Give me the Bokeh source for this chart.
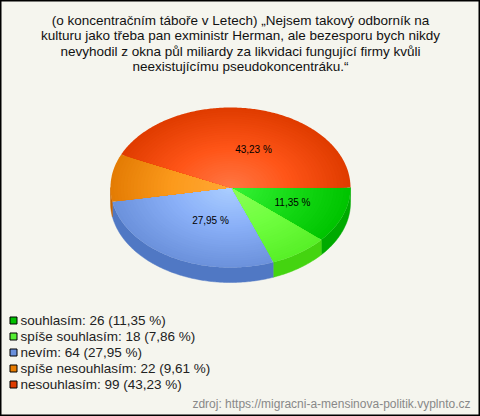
import numpy as np
from bokeh.plotting import figure
from bokeh.models import Range1d
from bokeh.core.properties import value
from bokeh.embed import file_html
from bokeh.resources import INLINE

# --- data ---
categories = ["souhlasím", "spíše souhlasím", "nevím", "spíše nesouhlasím", "nesouhlasím"]
counts = [26, 18, 64, 22, 99]
percent_labels = ["11,35", "7,86", "27,95", "9,61", "43,23"]
title_lines = [
    "(o koncentračním táboře v Letech) „Nejsem takový odborník na",
    "kulturu jako třeba pan exministr Herman, ale bezesporu bych nikdy",
    "nevyhodil z okna půl miliardy za likvidaci fungující firmy kvůli",
    "neexistujícímu pseudokoncentráku.“",
]
source_text = "zdroj: https://migracni-a-mensinova-politik.vyplnto.cz"

# --- style ---
BG = "#f5f5ee"
center_colors = ["#38f438", "#8cff58", "#accfff", "#ffa835", "#ff7845"]
mid_colors = ["#18dc18", "#70ff40", "#8ab0f8", "#fc9a1c", "#ff5518"]
edge_colors = ["#00c400", "#58f028", "#6c92dc", "#e47c04", "#e03c00"]
side_colors = ["#00aa00", "#44d410", "#5078c4", "#c86400", "#b83000"]
legend_colors = ["#00c000", "#55ee33", "#6a90dc", "#e87c00", "#e03c00"]
W, H = 480, 416
CX, CY, RX, RY, DEPTH = 230, 187, 120, 80, 15
RINGS = 36


def hex_rgb(c):
    return np.array([int(c[i:i + 2], 16) for i in (1, 3, 5)], dtype=float)


def shade(i, f):
    c0, c1, c2 = hex_rgb(center_colors[i]), hex_rgb(mid_colors[i]), hex_rgb(edge_colors[i])
    c = c0 + (c1 - c0) * f / 0.5 if f < 0.5 else c1 + (c2 - c1) * (f - 0.5) / 0.5
    return "#%02x%02x%02x" % tuple(int(round(v)) for v in c)


def arc(a0, a1, r=1.0, dy=0.0):
    n = max(2, int(abs(a1 - a0) * 80))
    t = np.linspace(a0, a1, n)
    return CX + RX * r * np.cos(t), CY + dy + RY * r * np.sin(t)


fractions = np.array(counts, dtype=float) / sum(counts)
edges = np.concatenate([[0], np.cumsum(fractions)]) * 2 * np.pi

p = figure(width=W, height=H, output_backend="svg", toolbar_location=None,
           x_range=Range1d(0, W), y_range=Range1d(H, 0),
           min_border=0, background_fill_color=BG, border_fill_color=BG)
p.xaxis.visible = False
p.yaxis.visible = False
p.grid.visible = False
p.outline_line_color = "#000000"
p.outline_line_width = 2

# side wall (front half only)
xs, ys, cs = [], [], []
for i in range(len(counts)):
    a0, a1 = edges[i], min(edges[i + 1], np.pi)
    if a1 <= a0:
        continue
    x_top, y_top = arc(a0, a1)
    x_bot, y_bot = arc(a1, a0, dy=DEPTH)
    xs.append(np.concatenate([x_top, x_bot]))
    ys.append(np.concatenate([y_top, y_bot]))
    cs.append(side_colors[i])
p.patches(xs, ys, fill_color=cs, line_color=cs, line_width=0.5)

# top face: radial shading as concentric sectors, outer to inner
xs, ys, cs = [], [], []
for i in range(len(counts)):
    for k in range(RINGS, 0, -1):
        f = k / RINGS
        x_a, y_a = arc(edges[i], edges[i + 1], r=f)
        xs.append(np.concatenate([[CX], x_a]))
        ys.append(np.concatenate([[CY], y_a]))
        cs.append(shade(i, f))
p.patches(xs, ys, fill_color=cs, line_color=None)

# value labels
label_pos = {0: (292, 202), 2: (210, 220), 4: (253, 149)}
for i, (lx, ly) in label_pos.items():
    p.text([lx], [ly], text=[percent_labels[i] + " %"], text_font=value("Liberation Sans"),
           text_font_size="10px", text_color="#000000", text_align="center", text_baseline="middle")

# title
title_y = [20, 35, 51, 66]
for line, ty in zip(title_lines, title_y):
    p.text([240], [ty], text=[line], text_font=value("Liberation Sans"), text_font_size="13.5px",
           text_color="#111111", text_align="center", text_baseline="middle")

# legend
legend_y = [320, 336, 352, 368, 384]
for i, ly in enumerate(legend_y):
    p.rect([13], [ly], width=7, height=7, fill_color=legend_colors[i], line_color="#000000", line_width=1)
    p.text([20], [ly], text=[f"{categories[i]}: {counts[i]} ({percent_labels[i]} %)"],
           text_font=value("Liberation Sans"), text_font_size="13.5px", text_color="#222222",
           text_align="left", text_baseline="middle")

# source
p.text([470], [403], text=[source_text], text_font=value("Liberation Sans"), text_font_size="12px",
       text_color="#888888", text_align="right", text_baseline="middle")

open("out.html", "w").write(file_html(p, INLINE))
